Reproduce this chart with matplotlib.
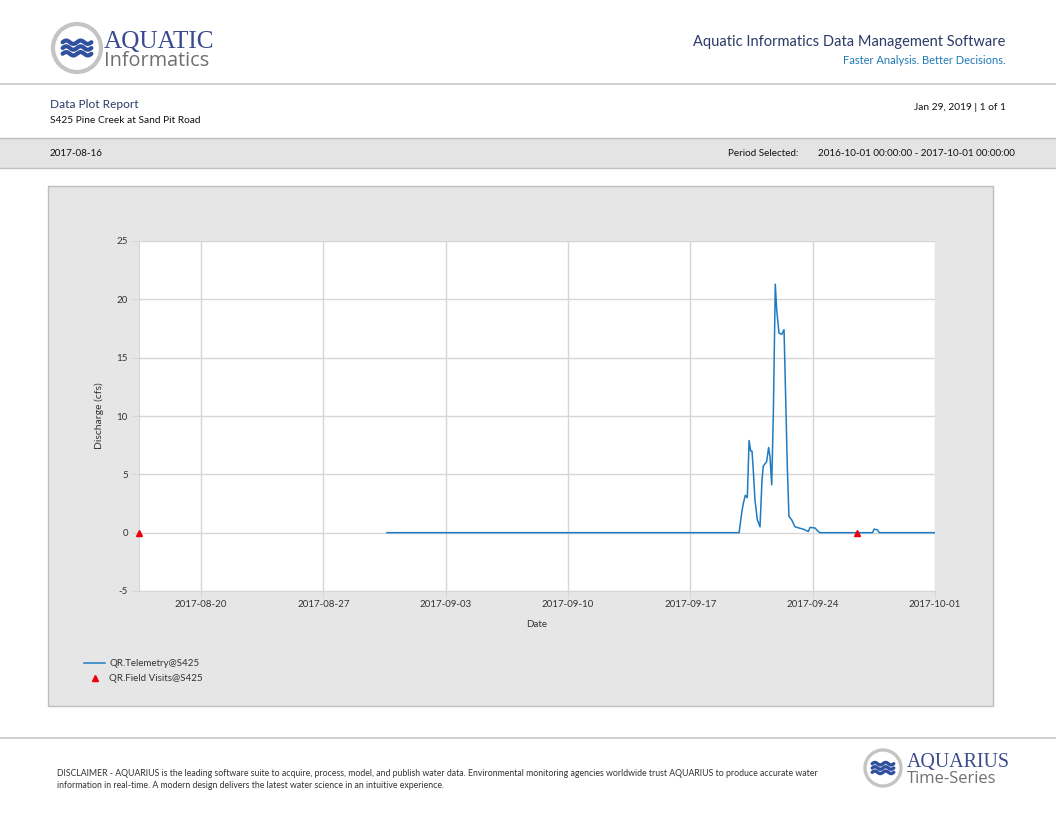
import numpy as np
import pandas as pd
import matplotlib
matplotlib.use("Agg")
import matplotlib.pyplot as plt
from matplotlib.patches import Rectangle, Circle

plt.rcParams['font.family'] = ['Lato', 'DejaVu Sans']

# ---- data ----
TELEMETRY_TIME = [
    '2017-08-30 15:20', '2017-09-19 19:00', '2017-09-19 22:30', '2017-09-20 00:45',
    '2017-09-20 03:30', '2017-09-20 06:15', '2017-09-20 08:40', '2017-09-20 10:50',
    '2017-09-20 12:40', '2017-09-20 14:25', '2017-09-20 16:45', '2017-09-20 20:00',
    '2017-09-20 23:40', '2017-09-21 02:25', '2017-09-21 04:10', '2017-09-21 08:50',
    '2017-09-21 11:30', '2017-09-21 13:25', '2017-09-21 15:45', '2017-09-21 18:00',
    '2017-09-21 20:40', '2017-09-21 22:35', '2017-09-22 01:45', '2017-09-22 05:30',
    '2017-09-22 08:40', '2017-09-22 10:20', '2017-09-22 13:10', '2017-09-22 15:25',
    '2017-09-22 19:10', '2017-09-22 23:45', '2017-09-23 11:05', '2017-09-23 18:00',
    '2017-09-23 20:25', '2017-09-24 03:10', '2017-09-24 07:40', '2017-09-24 10:00',
    '2017-09-27 10:20', '2017-09-27 12:15', '2017-09-27 16:45', '2017-09-27 19:30',
    '2017-10-01 00:00',
]
TELEMETRY_Q = [
    0.0, 0.0, 1.7, 2.5,
    3.2, 3.0, 7.9, 7.0,
    7.0, 5.4, 2.8, 1.1,
    0.5, 4.5, 5.7, 6.1,
    7.3, 6.5, 4.1, 10.2,
    21.3, 19.1, 17.1, 17.0,
    17.4, 13.1, 5.7, 1.4,
    1.1, 0.5, 0.3, 0.1,
    0.45, 0.4, 0.1, 0.0,
    0.0, 0.3, 0.25, 0.0,
    0.0,
]
VISIT_TIME = ['2017-08-16 10:50', '2017-09-26 13:15']
VISIT_Q = [0.0, 0.0]

X_START = '2017-08-16 10:50'
X_END = '2017-10-01 00:00'
XTICKS = ['2017-08-20', '2017-08-27', '2017-09-03', '2017-09-10',
          '2017-09-17', '2017-09-24', '2017-10-01']
YTICKS = [-5, 0, 5, 10, 15, 20, 25]

NAVY = "#2b3a67"
LINE_BLUE = "#1f7bc1"
GRAY_TXT = "#333333"

W, H = 1056, 816
fig = plt.figure(figsize=(W / 100, H / 100), dpi=100)
fig.patch.set_facecolor("white")

# ---- page layout drawn in pixel coordinates ----
bg = fig.add_axes([0, 0, 1, 1])
bg.set_xlim(0, W)
bg.set_ylim(H, 0)
bg.axis("off")


def logo(cx, cy, r, lw):
    bg.add_patch(Circle((cx, cy), r, facecolor="white", edgecolor="#c4c4c4", lw=lw))
    xs = np.linspace(cx - r * 0.6, cx + r * 0.6, 60)
    for dy in (-0.24, 0.0, 0.24):
        ys = cy + dy * r - 0.07 * r * np.sin((xs - xs[0]) / (xs[-1] - xs[0]) * 2 * np.pi * 2)
        bg.plot(xs, ys, color="#2f4f9f", lw=lw * 1.0, solid_capstyle="round")


# header
logo(77, 48, 24, 3.0)
bg.text(104, 48, "AQUATIC", family="Liberation Serif", fontsize=18.2, color="#3a4a8f",
        va="baseline", ha="left")
bg.text(104, 66, "Informatics", family="Open Sans", fontsize=14.3, color="#707070",
        va="baseline", ha="left")
bg.text(1005, 46, "Aquatic Informatics Data Management Software", fontsize=10.5,
        color=NAVY, ha="right", va="baseline")
bg.text(1006, 64, "Faster Analysis. Better Decisions.", fontsize=8, color="#1e7ab8",
        ha="right", va="baseline")
bg.plot([0, W], [84, 84], color="#c8c8c8", lw=1.2)

bg.text(50, 108, "Data Plot Report", fontsize=8.6, color=NAVY, ha="left", va="baseline")
bg.text(50, 123, "S425 Pine Creek at Sand Pit Road", fontsize=7.3, color="#111111",
        ha="left", va="baseline")
bg.text(1006, 110, "Jan 29, 2019 | 1 of 1", fontsize=7.3, color="#111111",
        ha="right", va="baseline")

# grey band
bg.add_patch(Rectangle((0, 138), W, 30, facecolor="#e4e4e4", edgecolor="none"))
bg.plot([0, W], [138, 138], color="#c0c0c0", lw=1)
bg.plot([0, W], [168, 168], color="#c0c0c0", lw=1)
bg.text(50, 156, "2017-08-16", fontsize=7.1, color="#111111", ha="left", va="baseline")
bg.text(728, 156, "Period Selected:", fontsize=7.1, color="#111111", ha="left", va="baseline")
bg.text(818, 156, "2016-10-01 00:00:00 - 2017-10-01 00:00:00", fontsize=7.1,
        color="#111111", ha="left", va="baseline")

# chart panel
bg.add_patch(Rectangle((48, 186), 945, 520, facecolor="#e6e6e6", edgecolor="#bdbdbd", lw=1))

# footer
bg.plot([0, W], [738, 738], color="#c8c8c8", lw=1.2)
bg.text(57, 776, "DISCLAIMER - AQUARIUS is the leading software suite to acquire, process, model, "
        "and publish water data. Environmental monitoring agencies worldwide trust AQUARIUS "
        "to produce accurate water", fontsize=6.3, color="#333333", ha="left", va="baseline")
bg.text(57, 788, "information in real-time. A modern design delivers the latest water science "
        "in an intuitive experience.", fontsize=6.3, color="#333333", ha="left", va="baseline")
logo(883, 768, 18, 2.4)
bg.text(907, 767, "AQUARIUS", family="Liberation Serif", fontsize=14.3, color="#3a4a8f",
        ha="left", va="baseline")
bg.text(907, 783, "Time-Series", family="Open Sans", fontsize=12, color="#707070",
        ha="left", va="baseline")

# ---- the chart ----
ax = fig.add_axes([139 / W, 1 - 591 / H, 796 / W, 350 / H])
ax.set_facecolor("white")

t_tel = pd.to_datetime(TELEMETRY_TIME)
t_vis = pd.to_datetime(VISIT_TIME)
line, = ax.plot(t_tel, TELEMETRY_Q, color=LINE_BLUE, lw=1.1, zorder=3)
pts, = ax.plot(t_vis, VISIT_Q, ls="none", marker="^", ms=4.5, color="#e8000b",
               mec="#e8000b", zorder=4, clip_on=False)

ax.set_xlim(pd.Timestamp(X_START), pd.Timestamp(X_END))
ax.set_ylim(-5, 25)
ax.set_yticks(YTICKS)
ax.set_yticklabels([str(v) for v in YTICKS])
ax.set_xticks(pd.to_datetime(XTICKS))
ax.set_xticklabels(XTICKS)
ax.grid(True, color="#d6d6d6", lw=1)
ax.set_axisbelow(True)
for s in ax.spines.values():
    s.set_visible(False)
ax.spines["left"].set_visible(True)
ax.spines["left"].set_color("#d6d6d6")
ax.spines["bottom"].set_visible(True)
ax.spines["bottom"].set_color("#d6d6d6")
ax.tick_params(axis="both", length=5, color="#d6d6d6", labelsize=7, labelcolor=GRAY_TXT,
               pad=3)
ax.tick_params(axis="x", pad=1.5)
ax.set_xlabel("Date", fontsize=7, color=GRAY_TXT, labelpad=8)
ax.set_ylabel("Discharge (cfs)", fontsize=7.5, color=GRAY_TXT, labelpad=9)

ax.legend([line, pts], ["QR.Telemetry@S425", "QR.Field Visits@S425"],
          loc="upper left", bbox_to_anchor=(84 / W, 1 - 659 / H),
          bbox_transform=fig.transFigure, frameon=False, fontsize=7,
          handlelength=2.2, handletextpad=0.4, labelspacing=0.62,
          borderpad=0, borderaxespad=0, labelcolor=GRAY_TXT)

fig.savefig("out.png", dpi=100, facecolor="white")
